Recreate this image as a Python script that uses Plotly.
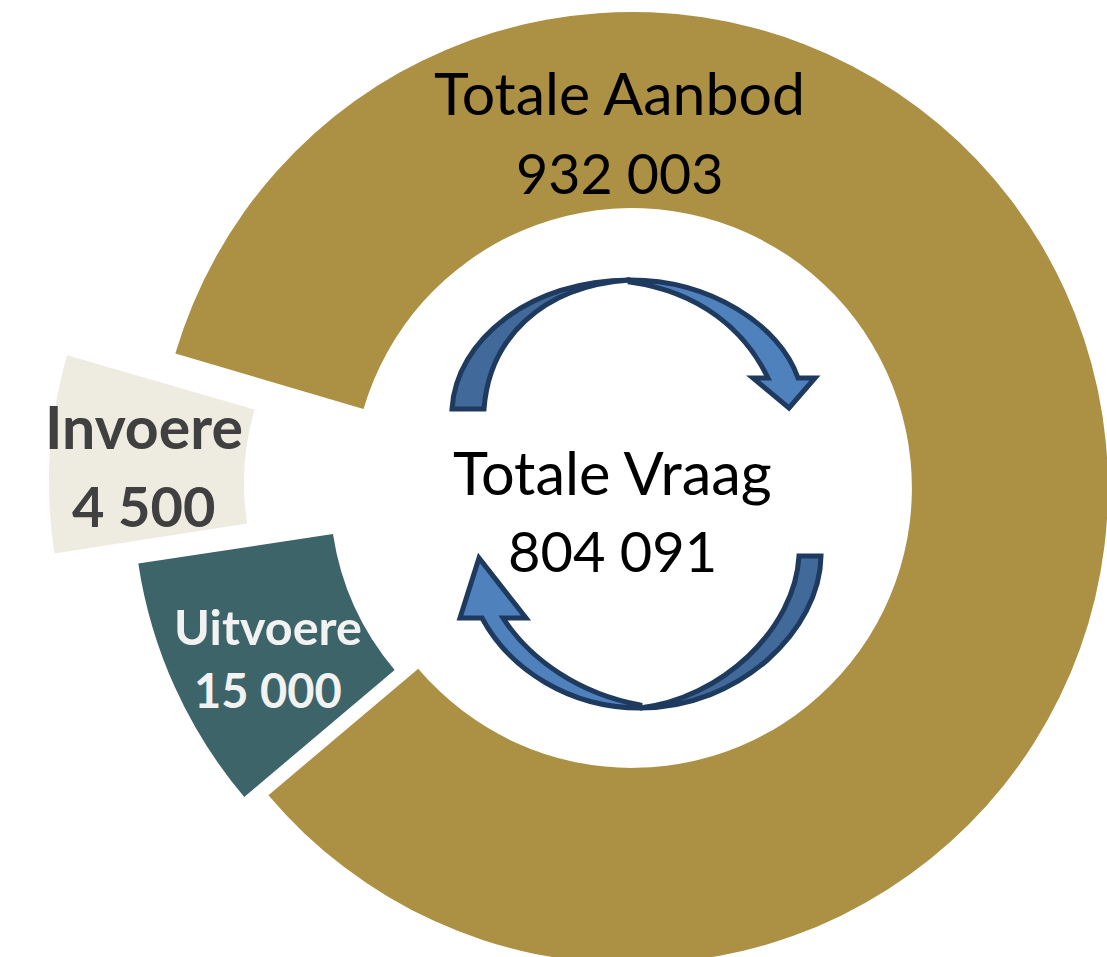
import plotly.graph_objects as go

# Data
slice_names = ["Totale Aanbod", "Uitvoere", "Invoere"]
slice_amounts = ["932 003", "15 000", "4 500"]
slice_degrees = [303.4, 31.6, 25.0]   # drawn share of the ring
slice_colors = ["#AC9044", "#3C6469", "#EEECE1"]
start_angle = 286.4
centre_title = "Totale Vraag"
centre_amount = "804 091"

W, H = 1110, 970
FONT = "Lato"

# (centre x, centre y, radius, hole, rotation tweak) for each exploded slice, in pixels
geometry = [(632, 488, 476, 0.588, 0), (604, 493, 471, 0.582, 0), (508, 483, 459, 0.575, -0.25)]

fig = go.Figure()
for i, (cx, cy, r, hole, tweak) in enumerate(geometry):
    colors = ["rgba(0,0,0,0)"] * len(slice_degrees)
    colors[i] = slice_colors[i]
    fig.add_trace(go.Pie(
        labels=slice_names, values=slice_degrees, sort=False, direction="clockwise",
        rotation=start_angle + tweak, hole=hole, textinfo="none", hoverinfo="skip",
        showlegend=False,
        marker=dict(colors=colors, line=dict(width=0)),
        domain=dict(x=[(cx - r) / W, (cx + r) / W], y=[1 - (cy + r) / H, 1 - (cy - r) / H]),
    ))


def px(x, y):
    return f"{x / W:.5f},{1 - y / H:.5f}"


def path(*parts):
    out = []
    for cmd, pts in parts:
        out.append(cmd + " " + " ".join(px(*p) for p in pts))
    return " ".join(out) + " Z"


ARROW_LINE = "#1F3A5F"
DARK, LIGHT = "#41699A", "#4F81BD"
arrows = [
    (DARK, path(("M", [(452, 409)]), ("C", [(456, 340), (530, 280), (630, 280)]),
                ("C", [(540, 286), (489, 340), (484, 409)]))),
    (LIGHT, path(("M", [(630, 280)]), ("C", [(710, 280), (780, 325), (798, 378)]),
                 ("L", [(815, 378)]), ("L", [(789, 408)]), ("L", [(753, 378)]), ("L", [(768, 378)]),
                 ("C", [(745, 330), (700, 292), (630, 282)]))),
    (DARK, path(("M", [(821, 556)]), ("C", [(820, 630), (740, 708), (640, 708)]),
                ("C", [(720, 699), (795, 630), (799, 556)]))),
    (LIGHT, path(("M", [(640, 708)]), ("C", [(570, 708), (510, 670), (482, 618)]),
                 ("L", [(460, 618)]), ("L", [(479, 558)]), ("L", [(526, 618)]), ("L", [(503, 618)]),
                 ("C", [(530, 660), (580, 694), (640, 705)]))),
]
shapes = [dict(type="path", xref="paper", yref="paper", path=p, fillcolor=c,
               line=dict(color=ARROW_LINE, width=5)) for c, p in arrows]

# text, centre x, centre y, size, colour, bold
texts = [
    (slice_names[0], 619, 93, 59, "#000000", False),
    (slice_amounts[0], 619, 172, 55.5, "#000000", False),
    (centre_title, 612, 472, 59.5, "#000000", False),
    (centre_amount, 612, 550, 56, "#000000", False),
    (slice_names[2], 144, 426, 59, "#404040", True),
    (slice_amounts[2], 144, 505, 56, "#404040", True),
    (slice_names[1], 268, 626, 48.5, "#F2F2F2", True),
    (slice_amounts[1], 268, 690, 47, "#F2F2F2", True),
]
annotations = [dict(text=t, x=x / W, y=1 - y / H, xref="paper", yref="paper", xanchor="center",
                    yanchor="middle", showarrow=False,
                    font=dict(family=FONT, size=s, color=c, weight="bold" if b else "normal"))
               for t, x, y, s, c, b in texts]

fig.update_layout(width=W, height=H, autosize=False, margin=dict(l=0, r=0, t=0, b=0),
                  paper_bgcolor="white", plot_bgcolor="white",
                  shapes=shapes, annotations=annotations)
fig.write_html("out.html", config=dict(displayModeBar=False),
               post_script="document.body.style.margin='0';document.documentElement.style.overflow='hidden';")
